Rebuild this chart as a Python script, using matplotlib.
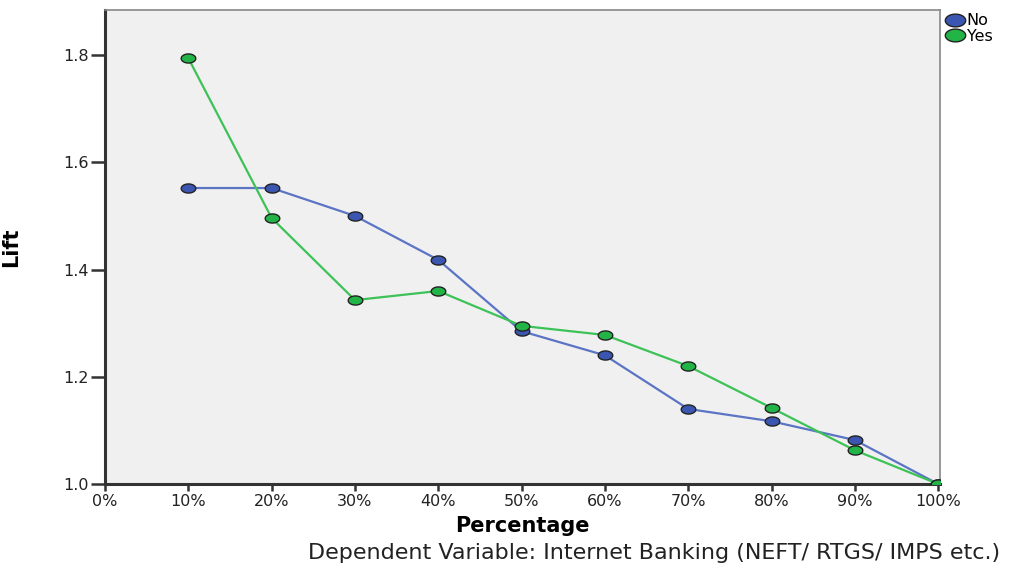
import numpy as np
import matplotlib
matplotlib.use("Agg")
import matplotlib.pyplot as plt
from matplotlib.ticker import FuncFormatter, MultipleLocator

plt.rcParams['font.family'] = ['DejaVu Sans']

percentages = [10, 20, 30, 40, 50, 60, 70, 80, 90, 100]
lift_no = [1.552, 1.552, 1.500, 1.418, 1.285, 1.240, 1.140, 1.117, 1.082, 1.000]
lift_yes = [1.794, 1.496, 1.343, 1.360, 1.295, 1.278, 1.220, 1.142, 1.063, 1.000]
series_names = ["No", "Yes"]

# flat elliptical point marker
t = np.linspace(0, 2 * np.pi, 49)
ellipse = list(zip(1.6 * np.cos(t), np.sin(t)))

fig = plt.figure(figsize=(10.11, 5.72), dpi=100)
ax = fig.add_axes([0.1039, 0.1538, 0.8261, 0.8287])
ax.set_facecolor("#F0F0F0")

styles = [
    dict(line="#5B74C4", face="#3A56B0"),
    dict(line="#3CC257", face="#22B447"),
]
for name, vals, st in zip(series_names, [lift_no, lift_yes], styles):
    ax.plot(percentages, vals, color=st["line"], lw=1.6, zorder=2)
    ax.plot(percentages, vals, ls="none", marker=ellipse, ms=10.5,
            markerfacecolor=st["face"], markeredgecolor="#222222",
            markeredgewidth=1.0, label=name, zorder=3)

ax.set_xlim(0, 100.25)
ax.set_ylim(1.0, 1.884)
ax.xaxis.set_major_locator(MultipleLocator(10))
ax.yaxis.set_major_locator(MultipleLocator(0.2))
ax.xaxis.set_major_formatter(FuncFormatter(lambda v, p: f"{v:.0f}%"))
ax.yaxis.set_major_formatter(FuncFormatter(lambda v, p: f"{v:.1f}"))

for side in ("left", "bottom"):
    ax.spines[side].set_color("#333333")
    ax.spines[side].set_linewidth(2.2)
for side in ("top", "right"):
    ax.spines[side].set_color("#888888")
    ax.spines[side].set_linewidth(1.2)

ax.tick_params(axis="both", direction="out", width=1.8,
               color="#333333", labelsize=11.5, labelcolor="#222222", pad=2)
ax.tick_params(axis="y", length=10)
ax.tick_params(axis="x", length=5)

ax.set_xlabel("Percentage", fontsize=15, fontweight="bold", labelpad=5)
ax.set_ylabel("Lift", fontsize=15, fontweight="bold", labelpad=30)

leg = ax.legend(loc="upper left", bbox_to_anchor=(1.002, 1.0), frameon=False,
                fontsize=11.5, handletextpad=0.15, borderaxespad=0.0,
                borderpad=0.2, labelspacing=0.05, handlelength=1.2,
                markerscale=1.4)

fig.text(0.989, 0.016, "Dependent Variable: Internet Banking (NEFT/ RTGS/ IMPS etc.)",
         ha="right", va="bottom", fontsize=16, color="#222222")

fig.savefig("out.png", dpi=100, facecolor="white")
